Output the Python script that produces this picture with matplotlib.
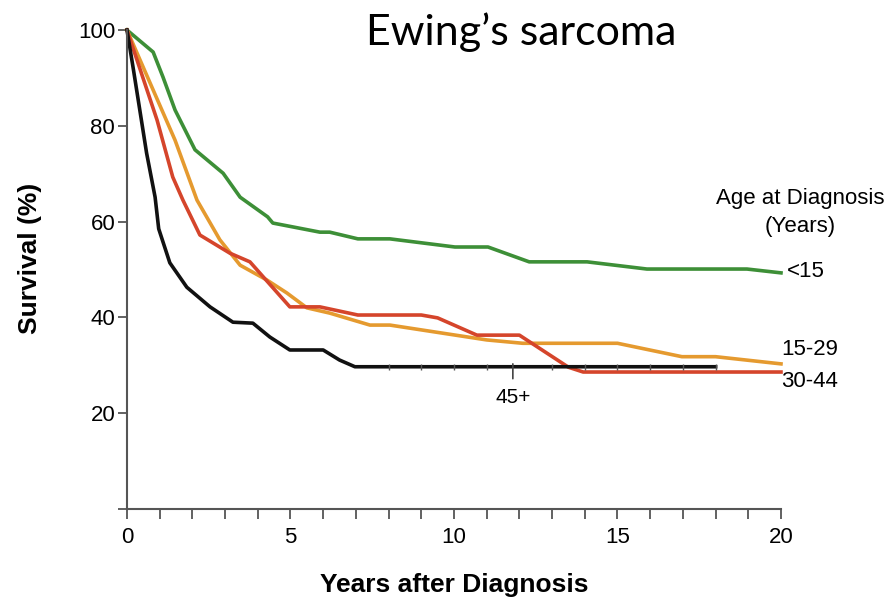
import numpy as np

import matplotlib
matplotlib.use("Agg")
import matplotlib.pyplot as plt

plt.rcParams['font.family'] = ['Liberation Sans', 'DejaVu Sans']

########

title = "Ewing\u2019s sarcoma"

# survival curves (years, %)
years_lt15 = [0, 0.8, 1.1, 1.47, 2.08, 2.94, 3.46, 4.3, 4.46, 5.9, 6.2, 7.06, 8.04,
              10.03, 11.04, 12.3, 14.07, 15.9, 18.96, 20]
surv_lt15 = [100, 95.4, 90.2, 83.3, 75, 70.1, 65.1, 61, 59.7, 57.8, 57.8, 56.4, 56.4,
             54.7, 54.7, 51.6, 51.6, 50.1, 50.1, 49.3]

years_15_29 = [0, 1.47, 2.14, 2.84, 3.46, 4.28, 4.89, 5.5, 6.2, 7.43, 8.04, 11.0,
               12.1, 15.0, 16.97, 18.0, 20]
surv_15_29 = [100, 77, 64.5, 56.2, 50.9, 47.8, 45.1, 42.0, 40.9, 38.4, 38.4, 35.3,
              34.6, 34.6, 31.8, 31.8, 30.3]

years_30_44 = [0, 0.92, 1.4, 1.71, 2.23, 3.15, 3.76, 4.98, 5.9, 7.06, 9.0, 9.5,
               10.7, 12.0, 13.5, 13.95, 20]
surv_30_44 = [100, 81.2, 69.3, 64.5, 57.2, 53.4, 51.6, 42.2, 42.2, 40.5, 40.5, 39.9,
              36.3, 36.3, 29.6, 28.6, 28.6]

years_45 = [0, 0.2, 0.6, 0.86, 0.97, 1.31, 1.83, 2.54, 3.24, 3.85, 4.37, 4.98,
            6.0, 6.5, 6.97, 18.0]
surv_45 = [100, 91.6, 74.3, 65.1, 58.5, 51.4, 46.3, 42.2, 39.0, 38.8, 35.9, 33.2,
           33.2, 31.1, 29.7, 29.7]
censor_45 = [8, 9, 10, 11, 13, 14, 15, 16, 17, 18]

groups = ["<15", "15-29", "30-44"]
group_label_y = [49.5, 33.2, 26.7]

########

col_green = "#3d8f37"
col_orange = "#e59a2f"
col_red = "#d5452b"
col_black = "#111111"
axis_col = "#555555"

fig = plt.figure(figsize=(8.88, 5.97), dpi=100)
ax = fig.add_axes([0.1430, 0.1474, 0.7365, 0.8023])

lw = 2.6
ax.plot(years_lt15, surv_lt15, color=col_green, lw=lw, clip_on=False)
ax.plot(years_15_29, surv_15_29, color=col_orange, lw=lw, clip_on=False)
ax.plot(years_30_44, surv_30_44, color=col_red, lw=lw, clip_on=False)
ax.plot(years_45, surv_45, color=col_black, lw=lw, clip_on=False)

# censoring marks on the 45+ curve
ax.plot(censor_45, np.interp(censor_45, years_45, surv_45), ls="none",
        marker="|", ms=5, mew=1.0, color="#555555")

# label line for 45+
ax.annotate("45+", xy=(11.8, np.interp(11.8, years_45, surv_45) + 0.6),
            xytext=(11.8, 23.2), ha="center", va="center", fontsize=15,
            arrowprops=dict(arrowstyle="-", color="#444444", lw=1.2,
                            shrinkA=5, shrinkB=0))

########

ax.set_xlim(0, 20)
ax.set_ylim(0, 100)

for s in ["top", "right"]:
    ax.spines[s].set_visible(False)
for s in ["left", "bottom"]:
    ax.spines[s].set_color(axis_col)
    ax.spines[s].set_linewidth(1.5)

ax.set_xticks([0, 5, 10, 15, 20])
ax.set_xticks(np.arange(0, 21, 1), minor=True)
ax.set_yticks([0, 20, 40, 60, 80, 100])
ax.set_yticklabels(["", "20", "40", "60", "80", "100"])

ax.tick_params(axis="x", which="both", direction="out", length=7, width=1.3,
               color=axis_col, labelsize=16, pad=6)
ax.tick_params(axis="y", direction="out", length=6.5, width=1.3,
               color=axis_col, labelsize=16, pad=2)

# group labels at the right end of the curves
for g, yv in zip(groups, group_label_y):
    ax.text(20.18 if g == "<15" else 20.0, yv, g, ha="left", va="center",
            fontsize=16, clip_on=False)

ax.text(20.58, 64.9, "Age at Diagnosis", ha="center", va="center", fontsize=16,
        clip_on=False)
ax.text(20.58, 58.9, "(Years)", ha="center", va="center", fontsize=16,
        clip_on=False)

fig.text(0.034, 0.568, "Survival (%)", rotation=90, ha="center", va="center",
         fontsize=19, fontweight="bold")
fig.text(0.511, 0.040, "Years after Diagnosis", ha="center", va="top",
         fontsize=19, fontweight="bold")

fig.text(0.587, 0.946, title, ha="center", va="center", fontsize=31,
         family=["Lato", "DejaVu Sans"])

plt.savefig("out.png", dpi=100)
